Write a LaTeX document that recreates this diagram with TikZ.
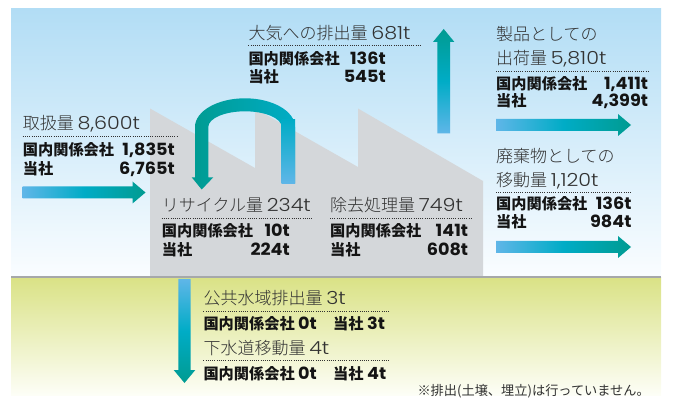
\documentclass[tikz,border=0pt]{standalone}
\usepackage{fontspec}
\usepackage{graphicx}
\usetikzlibrary{calc}
\newfontfamily\jpfont{Noto Sans CJK JP}
\newfontfamily\jplight{Noto Sans CJK JP Light}
\newfontfamily\numlight{Poppins Light}
\newfontfamily\numheavy{Poppins}

\definecolor{skytop}{RGB}{178,221,245}
\definecolor{skybot}{RGB}{250,253,255}
\definecolor{groundtop}{RGB}{218,226,134}
\definecolor{groundbot}{RGB}{253,254,247}
\definecolor{factory}{RGB}{212,215,218}
\definecolor{groundline}{RGB}{166,168,170}
\definecolor{flowteal}{RGB}{0,155,145}
\definecolor{flowcyan}{RGB}{0,172,198}
\definecolor{flowblue}{RGB}{95,182,232}
\definecolor{headink}{RGB}{50,50,50}
\definecolor{dataink}{RGB}{20,20,20}

\newcommand\hnum[1]{\scalebox{1.15}[1]{\numlight\fontsize{18}{18}\selectfont #1}}
\newcommand\dnum[1]{\scalebox{1.05}[1]{\numheavy\bfseries\fontsize{16.8}{16.8}\selectfont #1}}

\tikzset{
  head/.style={inner sep=0pt, anchor=base west, text=headink,
    font=\jplight\fontsize{17}{17}\selectfont},
  datal/.style={inner sep=0pt, anchor=base west, text=dataink,
    font=\jpfont\bfseries\fontsize{15.2}{15.2}\selectfont},
  datar/.style={datal, anchor=base east},
  note/.style={inner sep=0pt, anchor=base east, text=headink,
    font=\jpfont\fontsize{13.2}{13.2}\selectfont},
  rule/.style={headink, line width=0.8pt, dash pattern=on 0.9pt off 1.3pt},
  hflow/.style={left color=flowblue, right color=flowteal, middle color=flowcyan},
}

\begin{document}
\begin{tikzpicture}[x=1pt,y=-1pt]
\useasboundingbox (0,0) rectangle (673,401);

% sky and ground
\shade[top color=skytop, bottom color=skybot] (11,9) rectangle (661,277);
\shade[top color=groundtop, bottom color=groundbot] (11,278) rectangle (661,395);

% factory silhouette
\fill[factory] (150,277) -- (150,108.5) -- (255,168) -- (255,108.5) -- (358,167)
  -- (358,108.5) -- (483,181) -- (483,277) -- cycle;
\draw[groundline, line width=2pt] (11,277.5) -- (661,277.5);

% end points of the flows
\coordinate (inTail) at (22.7,192.5);   \coordinate (inTip) at (145.5,192.5);
\coordinate (prTail) at (496,125);      \coordinate (prTip) at (631,125);
\coordinate (wsTail) at (496,247);      \coordinate (wsTip) at (631,247);
\coordinate (airTail) at (443.7,133.3); \coordinate (airTip) at (443.7,29);
\coordinate (wtTail) at (184.5,279);    \coordinate (wtTip) at (184.5,383);

% horizontal flows
\foreach \a/\b in {inTail/inTip, prTail/prTip, wsTail/wsTip}{
  \shade[hflow] let \p1=(\a), \p2=(\b) in
    (\x1,\y1+6pt) -- (\x2-13pt,\y1+6pt) -- (\x2-13pt,\y1+11pt) -- (\x2,\y2)
    -- (\x2-13pt,\y1-11pt) -- (\x2-13pt,\y1-6pt) -- (\x1,\y1-6pt) -- cycle;
}
% upward flow to the air
\shade[bottom color=flowblue, top color=flowteal, middle color=flowcyan]
  let \p1=(airTail), \p2=(airTip) in
  (\x1-6.3pt,\y1) -- (\x1-6.3pt,\y2-13pt) -- (\x1-10.7pt,\y2-13pt) -- (\x2,\y2)
  -- (\x1+10.7pt,\y2-13pt) -- (\x1+6.3pt,\y2-13pt) -- (\x1+6.3pt,\y1) -- cycle;
% downward flow to water
\shade[top color=flowblue, bottom color=flowteal, middle color=flowcyan]
  let \p1=(wtTail), \p2=(wtTip) in
  (\x1-6.2pt,\y1) -- (\x1-6.2pt,\y2+13pt) -- (\x1-10.8pt,\y2+13pt) -- (\x2,\y2)
  -- (\x1+10.8pt,\y2+13pt) -- (\x1+6.2pt,\y2+13pt) -- (\x1+6.2pt,\y1) -- cycle;

% recycling loop
\shade[left color=flowteal, right color=flowcyan]
  (281.7,183.3) -- (295,183.3) -- (295,127)
  arc[start angle=0, end angle=-180, x radius=50, y radius=28.7]
  -- (195,177.3) -- (191.7,177.3) -- (201.7,189.5) -- (213.3,177.3) -- (208.3,177.3)
  -- (208.3,127)
  arc[start angle=180, end angle=360, x radius=36.7, y radius=15.7]
  -- cycle;
\shade[top color=flowcyan, bottom color=flowblue] (281.7,120) rectangle (295,183.3);

% intake
\node[head] (inH) at (22.7,130) {取扱量 \hnum{8,600t}};
\draw[rule] (22.7,136.7) -- (177.7,136.7);
\node[datal] (inA) at (22.7,156) {国内関係会社};
\node[datar] (inAn) at (175,156) {\dnum{1,835t}};
\node[datal] (inB) at (22.7,174.3) {当社};
\node[datar] (inBn) at (175,174.3) {\dnum{6,765t}};

% emissions to air
\node[head] (airH) at (248.3,40) {大気への排出量 \hnum{681t}};
\draw[rule] (248.3,45.7) -- (420,45.7);
\node[datal] (airA) at (248.3,65) {国内関係会社};
\node[datar] (airAn) at (386,65) {\dnum{136t}};
\node[datal] (airB) at (248.3,82.7) {当社};
\node[datar] (airBn) at (386,82.7) {\dnum{545t}};

% shipped as products
\node[head] (prH1) at (496,41) {製品としての};
\node[head] (prH2) at (496,65) {出荷量 \hnum{5,810t}};
\draw[rule] (496,71) -- (648.3,71);
\node[datal] (prA) at (496,89.3) {国内関係会社};
\node[datar] (prAn) at (648.3,89.3) {\dnum{1,411t}};
\node[datal] (prB) at (496,106.7) {当社};
\node[datar] (prBn) at (648.3,106.7) {\dnum{4,399t}};

% transferred as waste
\node[head] (wsH1) at (496,162.3) {廃棄物としての};
\node[head] (wsH2) at (496,186.7) {移動量 \hnum{1,120t}};
\draw[rule] (496,192.7) -- (632,192.7);
\node[datal] (wsA) at (496,209.3) {国内関係会社};
\node[datar] (wsAn) at (631.7,209.3) {\dnum{136t}};
\node[datal] (wsB) at (496,227.3) {当社};
\node[datar] (wsBn) at (631.7,227.3) {\dnum{984t}};

% recycled
\node[head] (rcH) at (161.7,211.7) {リサイクル量 \hnum{234t}};
\draw[rule] (161.7,218.3) -- (311.7,218.3);
\node[datal] (rcA) at (161.7,236.7) {国内関係会社};
\node[datar] (rcAn) at (290,236.7) {\dnum{10t}};
\node[datal] (rcB) at (161.7,255) {当社};
\node[datar] (rcBn) at (290,255) {\dnum{224t}};

% removed / treated
\node[head] (rmH) at (330,211.7) {除去処理量 \hnum{749t}};
\draw[rule] (330,218.3) -- (471.7,218.3);
\node[datal] (rmA) at (330,236.7) {国内関係会社};
\node[datar] (rmAn) at (468.3,236.7) {\dnum{141t}};
\node[datal] (rmB) at (330,255) {当社};
\node[datar] (rmBn) at (468.3,255) {\dnum{608t}};

% public water bodies and sewerage
\node[head] (pwH) at (203.3,305) {公共水域排出量 \hnum{3t}};
\draw[rule] (203.3,311.7) -- (388.3,311.7);
\node[datal] (pwA) at (203.3,329.3) {国内関係会社 \dnum{0t}};
\node[datal] (pwB) at (333,329.3) {当社 \dnum{3t}};
\node[head] (swH) at (203.3,355) {下水道移動量 \hnum{4t}};
\draw[rule] (203.3,360.7) -- (388.3,360.7);
\node[datal] (swA) at (203.3,379.3) {国内関係会社 \dnum{0t}};
\node[datal] (swB) at (333,379.3) {当社 \dnum{4t}};

\node[note] (foot) at (650,395.5) {※排出(土壌、埋立)は行っていません。};
\end{tikzpicture}
\end{document}
